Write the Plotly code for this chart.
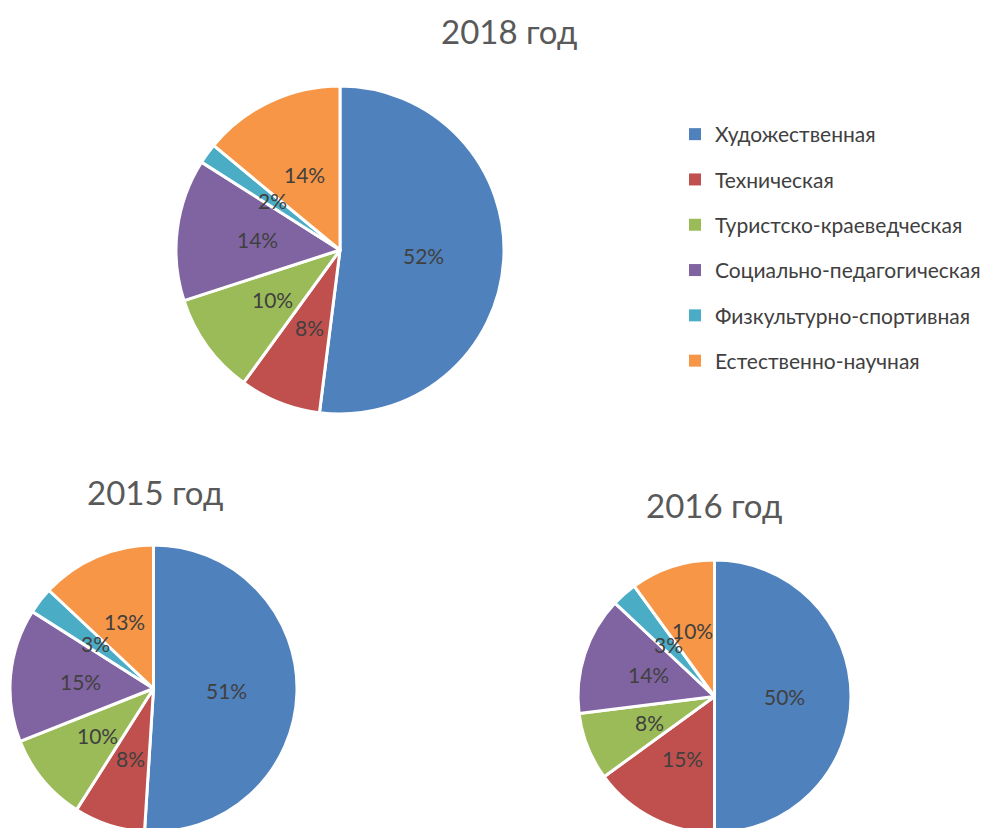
import math
import plotly.graph_objects as go

W, H = 998, 828

categories = ["Художественная", "Техническая", "Туристско-краеведческая",
              "Социально-педагогическая", "Физкультурно-спортивная", "Естественно-научная"]
colors = ["#4F81BD", "#C0504D", "#9BBB59", "#8064A2", "#4BACC6", "#F79646"]

values_2018 = [52, 8, 10, 14, 2, 14]
values_2015 = [51, 8, 10, 15, 3, 13]
values_2016 = [50, 15, 8, 14, 3, 10]

titles = ["2018 год", "2015 год", "2016 год"]

FONT = "Lato, 'Open Sans', sans-serif"
OFF = 8  # page body margin

def dom(cx, cy, r):
    return dict(x=[(cx - r) / W, (cx + r) / W],
                y=[max(0, 1 - (cy + r) / H), min(1, 1 - (cy - r) / H)])

fig = go.Figure()

# (values, centre x, centre y, radius) in figure pixels
pies = [
    (values_2018, 340 - OFF, 250 - OFF, 164),
    (values_2015, 153.5 - OFF, 688.5 - OFF, 143.5),
    (values_2016, 714.5 - OFF, 696.5 - OFF, 136.5),
]
for vals, cx, cy, r in pies:
    fig.add_trace(go.Pie(
        labels=categories, values=vals, sort=False, direction="clockwise", rotation=0,
        marker=dict(colors=colors, line=dict(color="white", width=3)),
        textinfo="none",
        domain=dom(cx, cy, r), showlegend=False, hoverinfo="label+percent",
    ))
    # data labels placed at mid-angle of each slice (computed from the values)
    total = sum(vals)
    cum = 0
    for v in vals:
        mid = (cum + v / 2) / total * 2 * math.pi
        cum += v
        d = 0.51 * r
        x = cx + d * math.sin(mid)
        y = cy - d * math.cos(mid)
        fig.add_annotation(text=f"{round(v / total * 100)}%", x=x / W, y=1 - y / H,
                           xref="paper", yref="paper", showarrow=False,
                           xanchor="center", yanchor="middle",
                           font=dict(size=21, color="#404040", family=FONT))

# legend entries
for i, (c, col) in enumerate(zip(categories, colors)):
    fig.add_trace(go.Scatter(x=[None], y=[None], mode="markers",
                             marker=dict(symbol="square", size=8, color=col),
                             name=c, legendgroup=f"g{i}", showlegend=True))

title_pos = [(509 - OFF, 31 - OFF), (155 - OFF, 492 - OFF), (714 - OFF, 505 - OFF)]
for t, (x, y) in zip(titles, title_pos):
    fig.add_annotation(text=t, x=x / W, y=1 - y / H, xref="paper", yref="paper",
                       showarrow=False, xanchor="center", yanchor="middle",
                       font=dict(size=33, color="#595959", family=FONT))

fig.update_layout(
    width=W, height=H, margin=dict(l=0, r=0, t=0, b=0),
    paper_bgcolor="white", plot_bgcolor="white",
    xaxis=dict(visible=False), yaxis=dict(visible=False),
    legend=dict(x=667 / W, y=1 - 106 / H, xanchor="left", yanchor="top",
                font=dict(size=21, color="#404040", family=FONT),
                tracegroupgap=15, itemsizing="constant", bgcolor="rgba(0,0,0,0)"),
)

fig.write_html("out.html")
